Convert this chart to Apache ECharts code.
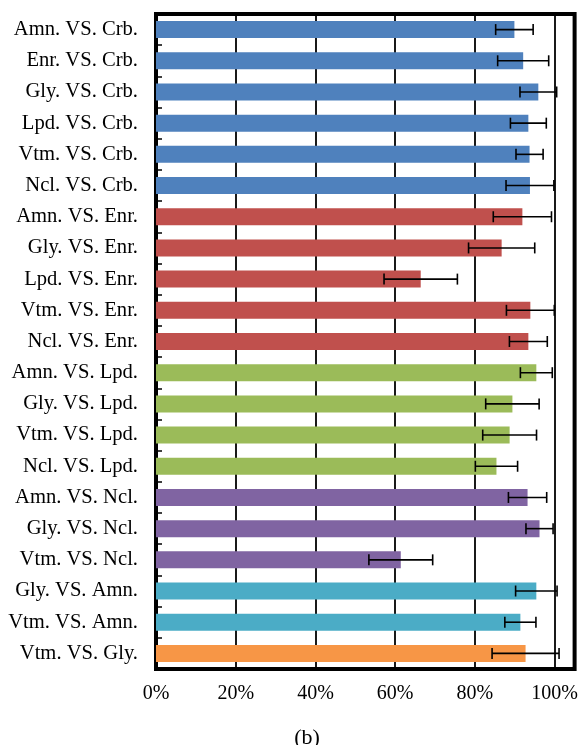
<!DOCTYPE html>
<html>
<head>
<meta charset="utf-8">
<script src="https://cdn.jsdelivr.net/npm/echarts@6/dist/echarts.min.js"></script>
<style>html,body{margin:0;padding:0;background:#fff;}#c{width:581px;height:745px;}</style>
</head>
<body>
<div id="c"></div>
<script>
var categories = ['Amn. VS. Crb.','Enr. VS. Crb.','Gly. VS. Crb.','Lpd. VS. Crb.','Vtm. VS. Crb.','Ncl. VS. Crb.',
  'Amn. VS. Enr.','Gly. VS. Enr.','Lpd. VS. Enr.','Vtm. VS. Enr.','Ncl. VS. Enr.',
  'Amn. VS. Lpd.','Gly. VS. Lpd.','Vtm. VS. Lpd.','Ncl. VS. Lpd.',
  'Amn. VS. Ncl.','Gly. VS. Ncl.','Vtm. VS. Ncl.',
  'Gly. VS. Amn.','Vtm. VS. Amn.',
  'Vtm. VS. Gly.'];
var values = [89.9, 92.1, 95.9, 93.4, 93.7, 93.8, 91.9, 86.7, 66.4, 93.9, 93.4, 95.4, 89.4, 88.7, 85.4, 93.2, 96.2, 61.4, 95.4, 91.4, 92.7];
var errors = [4.7, 6.4, 4.6, 4.5, 3.4, 6.0, 7.3, 8.3, 9.2, 6.0, 4.75, 4.0, 6.7, 6.75, 5.3, 4.8, 3.4, 8.0, 5.2, 3.9, 8.4];
var groups = [0,0,0,0,0,0, 1,1,1,1,1, 2,2,2,2, 3,3,3, 4,4, 5];
var groupColors = ['#4F81BD','#C0504D','#9BBB59','#8064A2','#4BACC6','#F79646'];
var tickLabels = ['0%','20%','40%','60%','80%','100%'];

var barData = values.map(function(v,i){ return {value: v, itemStyle: {color: groupColors[groups[i]]}}; });
var errData = values.map(function(v,i){ return [i, v - errors[i], v + errors[i]]; });

var chart = echarts.init(document.getElementById('c'), null, {renderer:'canvas'});
var FONT = '"Liberation Serif","Times New Roman",serif';
chart.setOption({
  animation: false,
  title: {text: '(b)', left: 302, top: 722, textAlign: 'center',
    textStyle: {fontFamily: FONT, fontSize: 22, fontWeight: 'normal', color: '#000'}},
  grid: {left: 156, right: 5, top: 14, bottom: 76, show: true, borderColor: '#000', borderWidth: 4, backgroundColor: 'transparent', containLabel: false},
  xAxis: {
    type: 'value', min: 0, max: 105, interval: 20,
    axisLine: {show: false}, axisTick: {show: false},
    splitLine: {show: true, lineStyle: {color: '#000', width: 1.8}},
    axisLabel: {margin: 15, fontFamily: FONT, fontSize: 20, color: '#000',
      formatter: function(v){ var k = Math.round(v/20); return (v <= 100 && Math.abs(v - k*20) < 1e-6) ? tickLabels[k] : ''; }}
  },
  yAxis: {
    type: 'category', data: categories, inverse: true,
    axisLine: {show: true, lineStyle: {color: '#000', width: 3}},
    axisTick: {show: true, inside: true, length: 6, lineStyle: {color: '#000', width: 1.5}},
    axisLabel: {margin: 18, fontFamily: FONT, fontSize: 20.6, color: '#000'},
    splitLine: {show: false}
  },
  series: [
    {type: 'bar', data: barData, barWidth: 17, z: 2},
    {type: 'custom', z: 5, clip: false, data: errData,
      renderItem: function(params, api){
        var i = api.value(0);
        var a = api.coord([api.value(1), i]);
        var b = api.coord([api.value(2), i]);
        var h = 5.5;
        var st = {stroke: '#000', lineWidth: 1.6};
        return {type: 'group', children: [
          {type: 'line', shape: {x1: a[0], y1: a[1], x2: b[0], y2: b[1]}, style: st},
          {type: 'line', shape: {x1: a[0], y1: a[1]-h, x2: a[0], y2: a[1]+h}, style: st},
          {type: 'line', shape: {x1: b[0], y1: b[1]-h, x2: b[0], y2: b[1]+h}, style: st}
        ]};
      }
    }
  ]
});
</script>
</body>
</html>
